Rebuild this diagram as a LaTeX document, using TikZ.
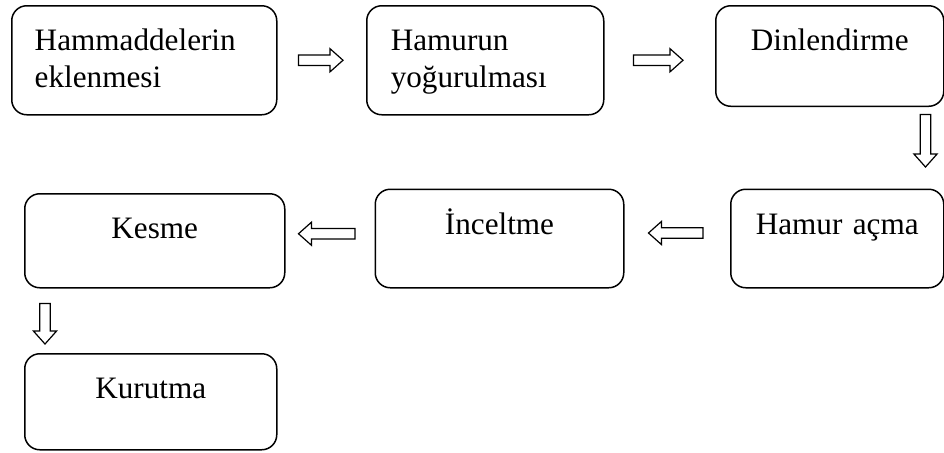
\documentclass[tikz,border=0pt]{standalone}
\usepackage{fontspec}
\setmainfont{Liberation Serif}
\usetikzlibrary{calc}

\begin{document}
\begin{tikzpicture}[x=0.5pt, y=0.5pt]
        \tikzstyle{every node}+=[inner sep=0pt]
        \tikzstyle{box}=[draw=black, line width=0.75pt, rounded corners=7.5pt, anchor=north west, align=center, text height=22.5pt, font=\fontsize{15.6}{18.5}\selectfont]
        \tikzstyle{blockarrow}=[draw=black, fill=white, line width=0.6pt, line join=miter,
          to path={let \p1=($(\tikztotarget)-(\tikztostart)$), \n1={atan2(\y1,\x1)}, \n2={veclen(\x1,\y1)} in
            {[shift={(\tikztostart)}, rotate=\n1]
              (0pt,-2.6pt) -- ({\n2-6.5pt},-2.6pt) -- ({\n2-6.5pt},-5.8pt) -- (\n2,0pt)
              -- ({\n2-6.5pt},5.8pt) -- ({\n2-6.5pt},2.6pt) -- (0pt,2.6pt) -- cycle}}]
        \path [use as bounding box, fill=white] (0,0) rectangle (944,-452);
        % first row
        \node [box, text width=109.5pt, inner xsep=11.5pt, align=left, text depth=32pt] (hammadde) at (11,-5) {Hammaddelerin\\eklenmesi};
        \node [box, text width=94.5pt, inner xsep=12pt, align=left, text depth=32pt] (yogurma) at (366,-5) {Hamurun\\yoğurulması};
        \node [box, text width=114pt, text depth=27.75pt] (dinlen) at (715,-5) {Dinlendirme};
        % second row
        \node [box, text width=106.5pt, text depth=26.75pt] (acma) at (730,-188.5) {Hamur açma};
        \node [box, text width=124.25pt, text depth=26.75pt] (incelt) at (374.5,-188.5) {İnceltme};
        \node [box, text width=130pt, text depth=24.5pt] (kesme) at (24,-193) {Kesme};
        \node [box, text width=126pt, text depth=25.5pt] (kurutma) at (24,-353) {Kurutma};
        % arrows
        \draw [blockarrow] ([xshift=10.5pt]hammadde.east) to ([xshift=-11.5pt]yogurma.west);
        \draw [blockarrow] ([xshift=14.5pt]yogurma.east) to ($(dinlen.west |- yogurma.east)+(-16pt,0pt)$);
        \draw [blockarrow] ([shift={(-9.5pt,-3.75pt)}]dinlen.south east) to ([shift={(-9.5pt,10.75pt)}]acma.north east);
        \draw [blockarrow] ([shift={(-13.5pt,2.75pt)}]acma.west) to ([shift={(12pt,2.75pt)}]incelt.east);
        \draw [blockarrow] ([shift={(-9.75pt,2.4pt)}]incelt.west) to ([shift={(6.5pt,3.5pt)}]kesme.east);
        \draw [blockarrow] ([shift={(10.5pt,-7.5pt)}]kesme.south west) to ([shift={(10.5pt,4.5pt)}]kurutma.north west);
\end{tikzpicture}
\end{document}
